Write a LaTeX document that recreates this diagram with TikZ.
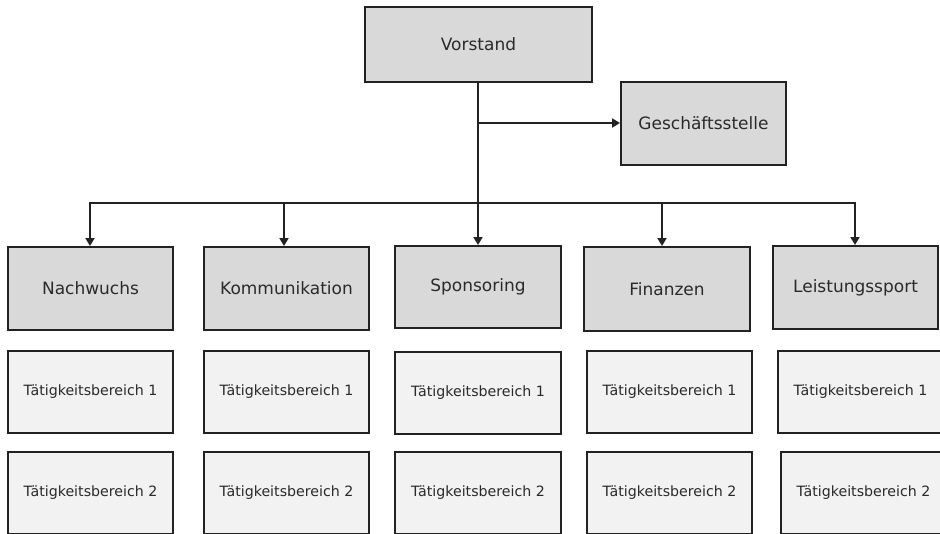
\documentclass[tikz,border=0pt]{standalone}
\usepackage{fontspec}
\setmainfont{DejaVu Sans}
\usetikzlibrary{arrows.meta}
\definecolor{mainfill}{HTML}{D9D9D9}
\definecolor{subfill}{HTML}{F2F2F2}
\definecolor{edge}{HTML}{222222}
\definecolor{ink}{HTML}{2A2A2A}
\begin{document}
\begin{tikzpicture}[x=1pt,y=-1pt,
  mainbox/.style={draw=edge,line width=2pt,fill=mainfill,inner sep=0pt,
    minimum width=165pt,minimum height=83pt,font=\fontsize{17}{20}\selectfont,text=ink},
  subbox/.style={draw=edge,line width=2pt,fill=subfill,inner sep=0pt,
    minimum width=165pt,minimum height=82pt,font=\fontsize{14.2}{17}\selectfont,text=ink},
  conn/.style={draw=edge,line width=1.8pt},
  arr/.style={conn,-{Triangle[length=8pt,width=9pt]}}]
\useasboundingbox (0,0) rectangle (940,533);
\clip (0,0) rectangle (940,533);
% top
\node[mainbox,minimum width=227pt,minimum height=75pt] (vor) at (478.5,44.5) {Vorstand};
\node[mainbox] (ges) at (703.5,123.5) {Geschäftsstelle};
% second level
\node[mainbox] (nach) at (90.5,288.5) {Nachwuchs};
\node[mainbox] (kom) at (286.5,288.5) {Kommunikation};
\node[mainbox,minimum width=166pt,minimum height=82pt] (spo) at (478,287) {Sponsoring};
\node[mainbox,minimum width=166pt,minimum height=84pt] (fin) at (667,289) {Finanzen};
\node[mainbox] (lei) at (855.5,287.5) {Leistungssport};
% activity rows
\node[subbox] (n1) at (90.5,392) {Tätigkeitsbereich 1};
\node[subbox] (k1) at (286.5,392) {Tätigkeitsbereich 1};
\node[subbox,minimum width=166pt] (s1) at (478,392.5) {Tätigkeitsbereich 1};
\node[subbox] (f1) at (669.5,392) {Tätigkeitsbereich 1};
\node[subbox] (l1) at (860.5,392) {Tätigkeitsbereich 1};
\node[subbox] (n2) at (90.5,493) {Tätigkeitsbereich 2};
\node[subbox] (k2) at (286.5,493) {Tätigkeitsbereich 2};
\node[subbox,minimum width=166pt] (s2) at (478,493) {Tätigkeitsbereich 2};
\node[subbox] (f2) at (669.5,492.5) {Tätigkeitsbereich 2};
\node[subbox] (l2) at (863.5,493) {Tätigkeitsbereich 2};
% connectors
\coordinate (gj) at (478,123);
\coordinate (bn) at (90,203);
\coordinate (bk) at (284,203);
\coordinate (bs) at (478,203);
\coordinate (bf) at (662,203);
\coordinate (bl) at (855,203);
\draw[arr] (vor.south -| bs) -- (spo.north -| bs);
\draw[arr] (gj) -- (ges.west |- gj);
\draw[conn,line join=miter] (bn |- nach.north) ++(0,-8) -- (bn) -- (bl) -- ++(0,10);
\draw[arr] (bn) -- (bn |- nach.north);
\draw[arr] (bk) -- (bk |- kom.north);
\draw[arr] (bf) -- (bf |- fin.north);
\draw[arr] (bl) -- (bl |- lei.north);
\end{tikzpicture}
\end{document}
